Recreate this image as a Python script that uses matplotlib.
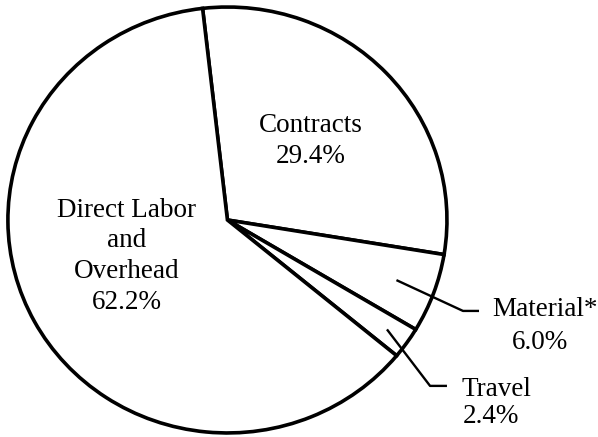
import matplotlib
matplotlib.use("Agg")
import matplotlib.pyplot as plt
import numpy as np

categories = ["Contracts", "Material*", "Travel", "Direct Labor\nand\nOverhead"]
shares = [29.4, 6.0, 2.4, 62.2]

plt.rcParams["font.family"] = ["Liberation Serif", "DejaVu Serif"]

fig = plt.figure(figsize=(5.98, 4.37), dpi=100)
ax = fig.add_axes([0, 0, 1, 1])

start = 96.5
ax.pie(shares, startangle=start, counterclock=False, radius=1.0,
       colors=["white"] * 4,
       wedgeprops=dict(edgecolor="black", linewidth=2.6))
ax.set_aspect("auto")
ax.set_xlim(-1.036, 1.688)
ax.set_ylim(-1.019, 1.033)
ax.axis("off")

fs = 19.5
labels = [f"{c}\n{v:.1f}%" for c, v in zip(categories, shares)]

# labels inside the big slices
ax.text(0.38, 0.37, labels[0], ha="center", va="center", fontsize=fs, linespacing=1.3)
ax.text(-0.458, -0.17, labels[3], ha="center", va="center", fontsize=fs, linespacing=1.3)

# leader lines for the two thin slices
bounds = start - np.cumsum([0] + shares) * 3.6
mids = (bounds[:-1] + bounds[1:]) / 2
leaders = {1: (0.82, (1.073, -0.427), (1.146, -0.427)),
           2: (0.89, (0.923, -0.779), (1.0, -0.779))}
for i, (r, elbow, end) in leaders.items():
    a = np.deg2rad(mids[i])
    ax.plot([r * np.cos(a), elbow[0], end[0]], [r * np.sin(a), elbow[1], end[1]],
            color="black", lw=1.7, solid_capstyle="butt")

ax.text(1.205, -0.42, categories[1], ha="left", va="center", fontsize=fs)
ax.text(1.424, -0.577, f"{shares[1]:.1f}%", ha="center", va="center", fontsize=fs)
ax.text(1.064, -0.795, categories[2], ha="left", va="center", fontsize=fs)
ax.text(1.2, -0.925, f"{shares[2]:.1f}%", ha="center", va="center", fontsize=fs)

fig.savefig("out.png", dpi=100)
